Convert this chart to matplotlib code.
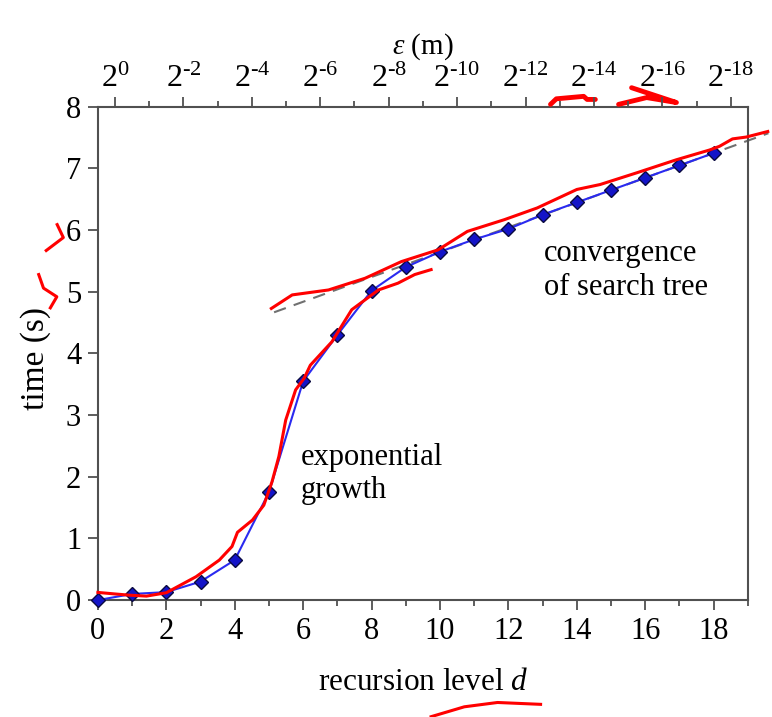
import numpy as np
import matplotlib
matplotlib.use('Agg')
import matplotlib.pyplot as plt
from matplotlib.ticker import MultipleLocator, FixedLocator

plt.rcParams['font.family'] = ['Liberation Serif', 'DejaVu Serif']
plt.rcParams['mathtext.fontset'] = 'custom'
plt.rcParams['mathtext.rm'] = 'Liberation Serif'
plt.rcParams['mathtext.it'] = 'Liberation Serif:italic'

# measured times per recursion level
d = np.arange(19)
t = [0.0, 0.1, 0.13, 0.3, 0.65, 1.75, 3.55, 4.3, 5.02, 5.4,
     5.65, 5.85, 6.02, 6.25, 6.45, 6.65, 6.85, 7.05, 7.25]

# top axis: epsilon = 2^-k
eps_pos = [0.5, 2.5, 4.5, 6.5, 8.5, 10.5, 12.5, 14.5, 16.5, 18.5]
eps_exp = ['0', '-2', '-4', '-6', '-8', '-10', '-12', '-14', '-16', '-18']

# hand drawn red strokes (data coordinates)
red1_x = [0.0, 0.5, 0.93, 1.42, 2.0, 2.87, 3.55, 3.92, 4.08, 4.52, 4.85, 5.09,
          5.29, 5.49, 5.78, 6.03, 6.21, 6.84, 7.42, 8.2, 8.77, 9.26, 9.74]
red1_y = [0.125, 0.1, 0.08, 0.065, 0.12, 0.38, 0.65, 0.87, 1.1, 1.3, 1.54, 1.92,
          2.33, 2.92, 3.41, 3.6, 3.81, 4.19, 4.71, 5.03, 5.14, 5.28, 5.36]
red2_x = [5.07, 5.68, 6.74, 7.81, 8.87, 9.94, 10.8, 11.88, 12.84, 14.0, 14.68,
          15.75, 16.9, 17.88, 18.17, 18.55, 18.95, 19.58]
red2_y = [4.73, 4.95, 5.03, 5.22, 5.49, 5.68, 5.98, 6.17, 6.36, 6.66, 6.74,
          6.93, 7.14, 7.3, 7.36, 7.48, 7.51, 7.6]
# small marks outside the plot area
mark6_x, mark6_y = [-1.51, -1.01, -1.19], [5.67, 5.88, 6.09]
mark5_x, mark5_y = [-1.73, -1.59, -1.2, -1.39], [5.28, 5.06, 4.92, 4.74]
markd_x, markd_y = [9.74, 10.71, 11.68, 12.94], [-1.89, -1.73, -1.66, -1.69]
markt1_x, markt1_y = [13.23, 13.4, 14.2, 14.3, 14.54], [8.04, 8.13, 8.17, 8.12, 8.12]
markt2_x, markt2_y = [15.22, 16.04, 16.91, 15.6], [8.04, 8.15, 8.07, 8.31]

fig = plt.figure(figsize=(7.72, 7.17), dpi=100)
ax = fig.add_axes([0.1268, 0.163, 0.842, 0.688])

# linear fit of the converged part
sel = d >= 10
p = np.polyfit(d[sel], np.array(t)[sel], 1)
fx = np.array([5.15, 19.6])
ax.plot(fx, np.polyval(p, fx), '--', color='#707070', lw=1.5, dashes=(6, 4),
        clip_on=False, zorder=2)

ax.plot(d, t, '-', color='#2a2af0', lw=1.5, marker='D', ms=7,
        mfc='#1414c8', mec='#0a0a40', mew=1.0, clip_on=False, zorder=3)

red = '#ff0000'
ax.plot(red1_x, red1_y, color=red, lw=2.2, clip_on=False, zorder=4)
ax.plot(red2_x, red2_y, color=red, lw=2.2, clip_on=False, zorder=4)
for mx, my in [(mark6_x, mark6_y), (mark5_x, mark5_y), (markd_x, markd_y)]:
    ax.plot(mx, my, color=red, lw=2.2, clip_on=False, zorder=4)
for mx, my in [(markt1_x, markt1_y), (markt2_x, markt2_y)]:
    ax.plot(mx, my, color=red, lw=3.5, clip_on=False, zorder=4,
            solid_capstyle='round')

ax.set_xlim(0, 19)
ax.set_ylim(0, 8)
ax.xaxis.set_major_locator(MultipleLocator(2))
ax.xaxis.set_minor_locator(MultipleLocator(1))
ax.yaxis.set_major_locator(MultipleLocator(1))

spine_c = '#505050'
for s in ax.spines.values():
    s.set_color(spine_c)
    s.set_linewidth(1.5)
ax.tick_params(axis='both', which='major', direction='out', length=7, width=1.3,
               color=spine_c, labelsize=22, pad=5)
ax.tick_params(axis='x', which='minor', direction='out', length=4, width=1.3,
               color=spine_c)
ax.tick_params(right=False, top=False)

ax.set_xlabel('recursion level $\\it{d}$', fontsize=22.5, labelpad=16)
ax.set_ylabel('time (s)', fontsize=24)
ax.yaxis.set_label_coords(-0.072, 0.49)

ax2 = ax.twiny()
ax2.set_xlim(ax.get_xlim())
ax2.xaxis.set_major_locator(FixedLocator(eps_pos))
ax2.xaxis.set_minor_locator(FixedLocator([x + 1 for x in eps_pos[:-1]]))
ax2.set_xticklabels(['$2^{\\text{%s}}$' % e for e in eps_exp])
ax2.tick_params(axis='x', which='major', direction='out', length=7, width=1.3,
                color=spine_c, labelsize=23, pad=2)
ax2.tick_params(axis='x', which='minor', direction='out', length=4, width=1.3,
                color=spine_c)
for s in ax2.spines.values():
    s.set_visible(False)
ax2.set_xlabel('$\\varepsilon$ (m)', fontsize=21, labelpad=8)

ax.text(5.93, 2.55, 'exponential\ngrowth', fontsize=22, va='top', ha='left',
        linespacing=1.2)
ax.text(13.05, 5.85, 'convergence\nof search tree', fontsize=22, va='top',
        ha='left', linespacing=1.2)

fig.savefig('out.png', dpi=100)
